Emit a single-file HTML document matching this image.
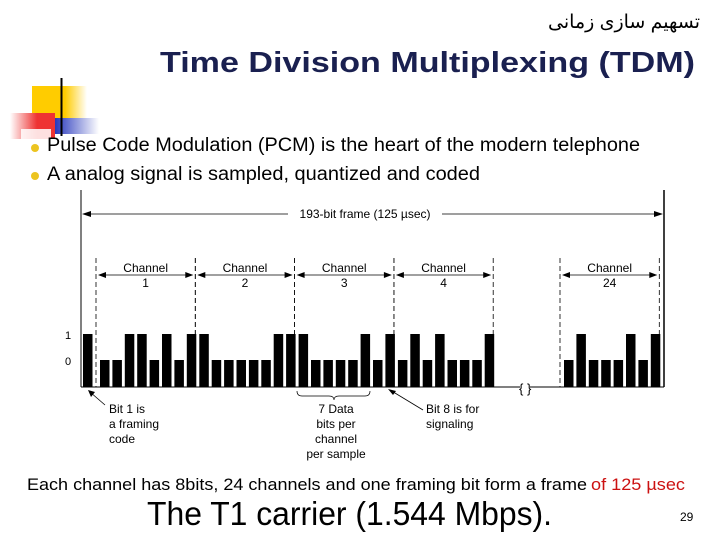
<!DOCTYPE html>
<html><head><meta charset="utf-8"><style>
html,body{margin:0;padding:0;background:#fff;width:720px;height:540px;overflow:hidden}
svg{display:block}
</style></head><body>
<svg width="720" height="540" viewBox="0 0 720 540" xmlns="http://www.w3.org/2000/svg">
<defs>
<linearGradient id="gy" x1="0" x2="1"><stop offset="0.6" stop-color="#ffcc00"/><stop offset="1" stop-color="#fff"/></linearGradient>
<linearGradient id="gr" x1="0" x2="1"><stop offset="0" stop-color="#fff"/><stop offset="0.6" stop-color="#ee3333"/></linearGradient>
<linearGradient id="gb" x1="0" x2="1"><stop offset="0" stop-color="#2233bb"/><stop offset="1" stop-color="#fff"/></linearGradient>
</defs>
<g>
<rect x="32" y="86" width="55" height="32" fill="url(#gy)"/>
<rect x="54" y="118" width="45" height="16" fill="url(#gb)"/>
<rect x="10" y="113" width="45" height="26" fill="url(#gr)"/>
<rect x="21" y="129" width="30" height="30" fill="#fff" opacity="0.85"/>
<line x1="61.5" y1="78" x2="61.5" y2="136" stroke="#000" stroke-width="2"/>
</g>
<text x="700" y="28" text-anchor="end" font-family="'Liberation Sans','DejaVu Sans',sans-serif" font-size="19">تسهیم سازی زمانی</text>
<text x="160" y="72" textLength="535" lengthAdjust="spacingAndGlyphs" font-family="'Liberation Sans',sans-serif" font-weight="bold" font-size="29" fill="#1a2050">Time Division Multiplexing (TDM)</text>
<circle cx="35" cy="148" r="4" fill="#ecc420"/>
<text x="47" y="151" textLength="593" lengthAdjust="spacingAndGlyphs" font-family="'Liberation Sans',sans-serif" font-size="19">Pulse Code Modulation (PCM) is the heart of the modern telephone</text>
<circle cx="35" cy="176" r="4" fill="#ecc420"/>
<text x="47" y="180" textLength="433" lengthAdjust="spacingAndGlyphs" font-family="'Liberation Sans',sans-serif" font-size="19">A analog signal is sampled, quantized and coded</text>
<g id="diagram" font-family="'Liberation Sans',sans-serif" font-size="12" fill="#000"></g>
<text x="27" y="490" textLength="560" lengthAdjust="spacingAndGlyphs" font-family="'Liberation Sans',sans-serif" font-size="17">Each channel has 8bits, 24 channels and one framing bit form a frame</text>
<text x="591" y="490" textLength="94" lengthAdjust="spacingAndGlyphs" font-family="'Liberation Sans',sans-serif" font-size="17" fill="#cc1111">of 125 µsec</text>
<text x="147" y="525" textLength="405" lengthAdjust="spacingAndGlyphs" font-family="'Liberation Sans',sans-serif" font-size="33">The T1 carrier (1.544 Mbps).</text>
<text x="680" y="521" font-family="'Liberation Sans',sans-serif" font-size="12">29</text>
</svg>
<script>
const channelNames = ["1","2","3","4","24"];
const framingBit = 1;
const channelBits = [
  [0,0,1,1,0,1,0,1],
  [1,0,0,0,0,0,1,1],
  [1,0,0,0,0,1,0,1],
  [0,1,0,1,0,0,0,1],
  [0,1,0,0,0,1,0,1]
];
const levelLabels = ["0","1"];

const NS="http://www.w3.org/2000/svg";
const g=document.getElementById('diagram');
function el(tag,attrs,parent){const e=document.createElementNS(NS,tag);for(const k in attrs)e.setAttribute(k,attrs[k]);(parent||g).appendChild(e);return e;}
const baseY=387, bitW=12.4, barW=9.5;
function yLevel(v){return v?334:360;}
const chStart=[96,195.3,294.6,393.9,560];
function xBit(ch,i){return chStart[ch]+4+i*bitW;}

let ln=el('line',{x1:81,y1:190,x2:81,y2:baseY,stroke:'#000','stroke-width':1});


ln=el('line',{x1:664,y1:190,x2:664,y2:baseY,stroke:'#000','stroke-width':1.5});


ln=el('path',{d:`M81 ${baseY} H520 M530 ${baseY} H664`,stroke:'#000','stroke-width':1,fill:'none'});


let br=el('text',{x:519,y:baseY+6,'font-size':13});br.textContent='{ }';



ln=el('path',{d:'M84 214 H288 M442 214 H661',stroke:'#000','stroke-width':0.8});


el('path',{d:'M82 214 l9 -3 v6z M663 214 l-9 -3 v6z',fill:'#000'});
let t=el('text',{x:365,y:218,'text-anchor':'middle'});t.textContent='193-bit frame  (125 µsec)';



levelLabels.forEach((lab,i)=>{const tt=el('text',{x:65,y:yLevel(i)+5,'font-size':11});tt.textContent=lab;

});

let fb=el('rect',{x:83,y:yLevel(framingBit),width:barW,height:baseY-yLevel(framingBit)});



channelBits.forEach((bits,c)=>{
  const x0=chStart[c], x1=x0+99.3;
  const d=el('path',{d:`M${x0} 258 V${baseY} M${x1} 258 V${baseY}`,stroke:'#000','stroke-width':0.8,'stroke-dasharray':'5,3'});
  
  
  const a=el('path',{d:`M${x0+3} 275 H${x1-3}`,stroke:'#000','stroke-width':0.8});
  
  
  el('path',{d:`M${x0+2} 275 l8 -3 v6z M${x1-2} 275 l-8 -3 v6z`,fill:'#000'});
  const l1=el('text',{x:(x0+x1)/2,y:272,'text-anchor':'middle'});l1.textContent='Channel';
  
  
  const l2=el('text',{x:(x0+x1)/2,y:287,'text-anchor':'middle'});l2.textContent=channelNames[c];
  
  
  bits.forEach((b,i)=>{
    const r=el('rect',{x:xBit(c,i),y:yLevel(b),width:barW,height:baseY-yLevel(b)});
    
    
  });
});

function txt(lines,x,y,anchor,name){lines.forEach((s,i)=>{const e=el('text',{x:x,y:y+i*15,'text-anchor':anchor});e.textContent=s;

});}
el('line',{x1:105,y1:405,x2:90,y2:392,stroke:'#000','stroke-width':0.8});
el('path',{d:'M88 390 l3 7 l4 -5z',fill:'#000'});
txt(['Bit 1 is','a framing','code'],109,413,'start','framing-note');
el('path',{d:'M297 391 q0 5 5 5 H329 q5 0 5 4 q0 -4 5 -4 H365 q5 0 5 -5',stroke:'#000','stroke-width':0.7,fill:'none'});
txt(['7 Data','bits per','channel','per sample'],336,413,'middle','data-bits-note');
el('line',{x1:423,y1:410,x2:390,y2:390,stroke:'#000','stroke-width':0.8});
el('path',{d:'M388 389 l8 2 l-3 4z',fill:'#000'});
txt(['Bit 8 is for','signaling'],426,413,'start','signaling-note');
</script>
</body></html>
